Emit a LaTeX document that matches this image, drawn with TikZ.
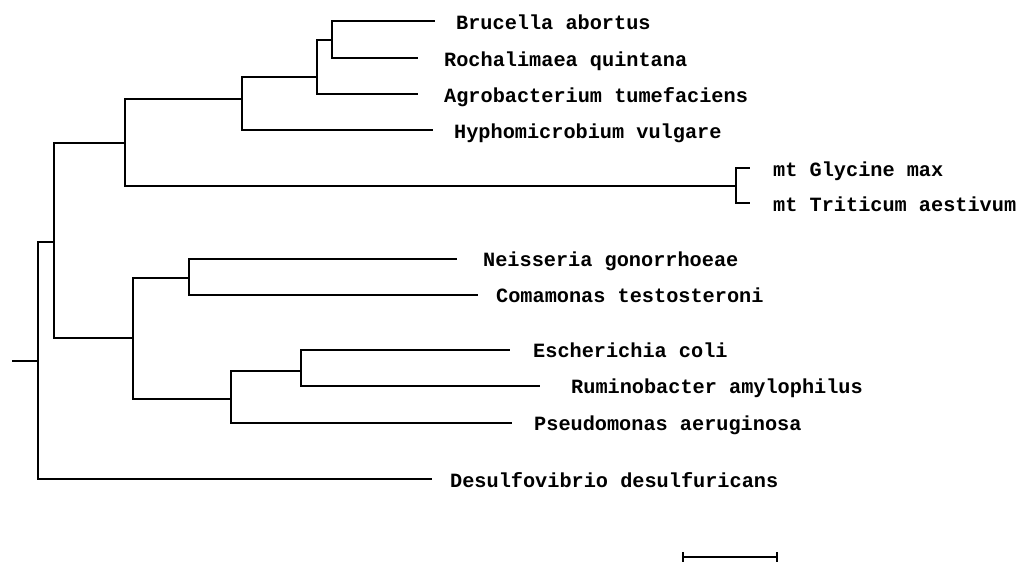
\documentclass[tikz,border=0pt]{standalone}
\usepackage{fontspec}
\setmonofont{Liberation Mono}
\usetikzlibrary{arrows.meta}

\begin{document}
\begin{tikzpicture}[x=0.025cm,y=-0.025cm,line width=1.7pt,
  lbl/.style={anchor=base west,inner sep=0pt,font=\ttfamily\bfseries\fontsize{14.4}{17}\selectfont}]
  \useasboundingbox (0,0) rectangle (1020,563);
  % inner nodes
  \coordinate (root) at (12,361);
  \coordinate (R) at (38,361);
  \coordinate (A) at (54,242);
  \coordinate (B) at (125,143);
  \coordinate (C) at (242,99);
  \coordinate (D) at (317,77);
  \coordinate (E) at (332,40);
  \coordinate (M) at (736,186);
  \coordinate (F) at (133,338);
  \coordinate (G) at (189,278);
  \coordinate (H) at (231,399);
  \coordinate (I) at (301,371);
  % tips and names
  \coordinate (bru) at (435,21);  \node[lbl] (Lbru) at (455,30)  {Brucella abortus};
  \coordinate (roc) at (418,58);  \node[lbl] (Lroc) at (443,67)  {Rochalimaea quintana};
  \coordinate (agr) at (418,94);  \node[lbl] (Lagr) at (443,103) {Agrobacterium tumefaciens};
  \coordinate (hyp) at (433,130); \node[lbl] (Lhyp) at (453,139) {Hyphomicrobium vulgare};
  \coordinate (gly) at (750,168); \node[lbl] (Lgly) at (772,177) {mt Glycine max};
  \coordinate (tri) at (750,203); \node[lbl] (Ltri) at (772,212) {mt Triticum aestivum};
  \coordinate (nei) at (457,259); \node[lbl] (Lnei) at (482,267) {Neisseria gonorrhoeae};
  \coordinate (com) at (478,295); \node[lbl] (Lcom) at (495,303) {Comamonas testosteroni};
  \coordinate (esc) at (510,350); \node[lbl] (Lesc) at (532,358) {Escherichia coli};
  \coordinate (rum) at (540,386); \node[lbl] (Lrum) at (570,394) {Ruminobacter amylophilus};
  \coordinate (pse) at (512,423); \node[lbl] (Lpse) at (533,431) {Pseudomonas aeruginosa};
  \coordinate (des) at (432,479); \node[lbl] (Ldes) at (449,487) {Desulfovibrio desulfuricans};
  % branches
  \draw (root) -- (R);
  \foreach \p/\c in {R/A,R/des,A/B,A/F,B/C,B/M,C/D,C/hyp,D/E,D/agr,E/bru,E/roc,
                     M/gly,M/tri,F/G,F/H,G/nei,G/com,H/I,H/pse,I/esc,I/rum}
    \draw (\p) |- (\c);
  % scale bar
  \coordinate (sbl) at (682,557);
  \coordinate (sbr) at (778,557);
  \draw[{Bar[width=7pt]}-{Bar[width=7pt]}] (sbl) -- (sbr);
\end{tikzpicture}
\end{document}
